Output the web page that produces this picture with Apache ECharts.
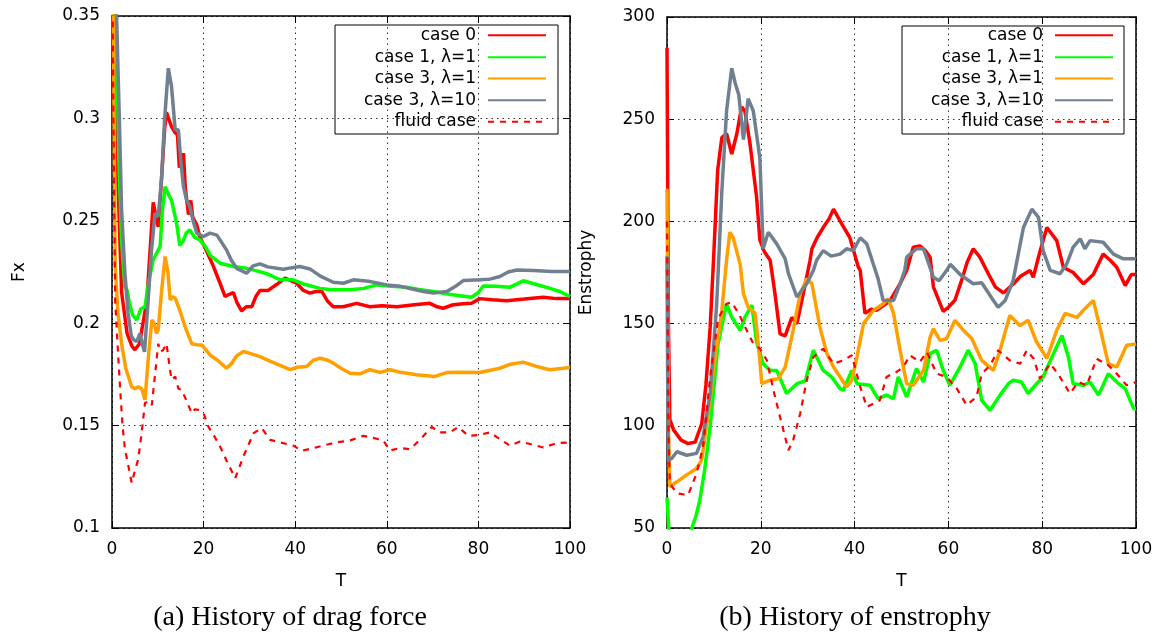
<!DOCTYPE html>
<html>
<head>
<meta charset="utf-8">
<script src="https://cdn.jsdelivr.net/npm/echarts@6/dist/echarts.min.js"></script>
<style>html,body{margin:0;padding:0;background:#fff}#c{width:1163px;height:637px}</style>
</head>
<body>
<div id="c"></div>
<script>
// ---------- data ----------
const seriesNames = ['case 0', 'case 1, λ=1', 'case 3, λ=1', 'case 3, λ=10', 'fluid case'];
const xTicks = [0, 20, 40, 60, 80, 100];
const dragTicks = [0.1, 0.15, 0.2, 0.25, 0.3, 0.35];
const enstTicks = [50, 100, 150, 200, 250, 300];

// (a) drag force Fx vs T
const dragCase0 = [[0,0.6],[0.6,0.35],[1.3,0.27],[2.1,0.215],[3.3,0.195],[4.3,0.189],[5.0,0.187],[6,0.19],[7.6,0.211],[8.3,0.235],[9.0,0.259],[9.6,0.252],[10.1,0.247],[10.8,0.27],[11.5,0.295],[11.9,0.303],[12.5,0.299],[13.0,0.296],[13.8,0.293],[14.3,0.292],[14.7,0.276],[15.3,0.279],[15.6,0.283],[16.0,0.266],[16.7,0.253],[17.2,0.26],[17.6,0.252],[18.5,0.248],[19.2,0.242],[20.5,0.236],[22.1,0.228],[23.5,0.22],[24.7,0.213],[25.5,0.214],[26.5,0.215],[27.3,0.21],[28.3,0.206],[29.3,0.208],[30.5,0.208],[31.4,0.213],[32.3,0.216],[34.1,0.216],[36,0.219],[37.8,0.222],[40.3,0.2195],[41.8,0.216],[43.2,0.2147],[44.5,0.2155],[45.8,0.2155],[47,0.211],[48.3,0.208],[50.5,0.208],[53.4,0.2097],[56.3,0.208],[59,0.2085],[62.2,0.208],[66,0.209],[69.4,0.2097],[71,0.208],[72.3,0.2073],[74.5,0.209],[76.7,0.2095],[78.5,0.2097],[80.3,0.212],[83,0.2115],[86.2,0.211],[90,0.2118],[94.2,0.2127],[97,0.212],[100,0.212]];
const dragCase1 = [[0,0.6],[0.9,0.35],[1.5,0.28],[2.1,0.24],[2.8,0.218],[3.3,0.216],[3.8,0.21],[4.5,0.204],[5.4,0.2016],[6.3,0.207],[7.2,0.208],[8.0,0.22],[9.0,0.231],[10.5,0.2374],[11.0,0.255],[11.6,0.2667],[12.3,0.263],[13.0,0.26],[13.6,0.254],[14.1,0.2488],[14.8,0.238],[15.5,0.24],[16.2,0.244],[17.0,0.2456],[18,0.242],[19.2,0.2407],[20.5,0.237],[21.5,0.233],[23.6,0.2293],[26.5,0.2277],[29,0.227],[32,0.2253],[34,0.224],[36.7,0.2212],[39.6,0.2212],[42,0.219],[45.4,0.217],[48,0.2163],[52,0.2163],[55,0.217],[57.8,0.2187],[61,0.218],[64.3,0.2176],[67,0.2165],[70.2,0.2155],[74,0.214],[78.5,0.2127],[80,0.215],[81.1,0.2182],[84,0.218],[86.9,0.2176],[89.8,0.2207],[92.5,0.219],[95.6,0.217],[97.8,0.2155],[100,0.213]];
const dragCase3l1 = [[0,0.5],[0.3,0.35],[0.7,0.2277],[1.3,0.205],[2.1,0.19],[3,0.178],[4.3,0.169],[5.0,0.168],[5.7,0.169],[6.5,0.168],[7.2,0.1626],[8.0,0.185],[8.7,0.2016],[9.2,0.2],[9.7,0.195],[10.1,0.1968],[10.8,0.215],[11.6,0.2326],[12.2,0.225],[12.7,0.2114],[13.3,0.213],[13.8,0.2122],[15,0.205],[16,0.198],[17.4,0.19],[18.5,0.1895],[19.6,0.1894],[20.5,0.187],[21.4,0.1845],[23,0.182],[25,0.178],[26,0.18],[27.2,0.184],[28.7,0.1862],[30.5,0.185],[32.3,0.1837],[35,0.181],[38.9,0.1773],[40.5,0.1785],[42.5,0.1789],[44,0.182],[45.4,0.1829],[47,0.182],[48.3,0.1805],[50,0.178],[52,0.1756],[54.1,0.1753],[56.3,0.1773],[58.5,0.176],[60.7,0.1773],[63,0.176],[66.5,0.1748],[70.5,0.174],[73.1,0.1759],[76,0.176],[80.3,0.1759],[84.7,0.178],[87,0.18],[89.8,0.181],[92.5,0.179],[95.6,0.1773],[100,0.1784]];
const dragCase3l10 = [[0,0.6],[1.0,0.35],[1.6,0.3],[2.1,0.255],[2.8,0.225],[3.5,0.205],[4.2,0.194],[4.7,0.192],[5.4,0.191],[6.1,0.195],[6.6,0.19],[7.1,0.186],[7.9,0.2114],[8.6,0.235],[9.4,0.2537],[10.1,0.252],[10.8,0.27],[11.5,0.3],[12.3,0.3245],[13.0,0.3155],[13.8,0.2944],[14.5,0.2944],[15.0,0.28],[15.6,0.2667],[16.3,0.26],[17,0.2569],[17.7,0.25],[18.5,0.244],[19.9,0.2423],[21.4,0.244],[22.9,0.243],[25,0.2358],[26,0.231],[27.2,0.2268],[29.4,0.2244],[30.8,0.228],[32.3,0.229],[34,0.2275],[37.4,0.2263],[39,0.227],[41,0.2277],[43.2,0.2265],[45.5,0.223],[48.3,0.22],[50.5,0.2195],[52.7,0.2212],[56,0.2205],[60,0.2187],[63,0.218],[65.8,0.2166],[68,0.2155],[70.2,0.2147],[73.1,0.2155],[75,0.218],[76.7,0.2208],[80.3,0.2212],[82.5,0.2215],[84.7,0.2228],[86.5,0.225],[88.4,0.226],[92,0.2257],[96,0.2252],[100,0.2252]];
const dragFluid = [[0,0.4],[0.3,0.3],[0.7,0.211],[1.2,0.19],[1.7,0.1707],[2.3,0.15],[2.8,0.139],[3.6,0.13],[4.3,0.122],[5.0,0.128],[5.7,0.1333],[6.4,0.145],[7.2,0.161],[8.0,0.162],[8.7,0.16],[9.4,0.175],[10.1,0.19],[10.6,0.186],[11.2,0.187],[11.9,0.19],[12.5,0.18],[13,0.1724],[13.8,0.174],[14.5,0.168],[15.2,0.1675],[16.3,0.162],[17.4,0.156],[18.1,0.158],[18.8,0.1577],[20,0.156],[21,0.1496],[22.3,0.145],[23.6,0.1398],[25,0.133],[26.9,0.1243],[28.7,0.135],[30.9,0.1463],[32.7,0.1488],[34.5,0.143],[36.7,0.1418],[39.6,0.1402],[41.4,0.1377],[44,0.139],[46.5,0.1405],[49.1,0.1418],[52,0.1428],[54.9,0.145],[57,0.144],[59.2,0.1428],[60.7,0.1379],[62.9,0.139],[65.1,0.1385],[67.2,0.143],[69.8,0.1493],[71.6,0.1467],[73.8,0.1467],[75.6,0.1493],[77.8,0.145],[80.3,0.1455],[82.5,0.1467],[84.7,0.1434],[86.9,0.1402],[89.1,0.1422],[92,0.1406],[94.2,0.1393],[97.1,0.1414],[100,0.1418]];

// (b) enstrophy vs T
const enstCase0 = [[0,285],[0.3,150],[0.6,103],[1.4,98],[3,93],[4.5,91.3],[6,92],[7.4,101],[8.3,120],[9.2,148],[10,185],[10.8,225],[11.7,241],[12.7,243],[13.8,233],[14.9,243],[15.9,256],[16.6,254],[17.7,238],[19.1,212],[19.8,191],[20.8,185],[22,181],[23,165],[24.1,145],[25.2,144],[26.6,153],[27.7,150],[29.1,165],[30.5,181],[30.9,186.6],[32,192],[33.3,197],[34.5,201],[35.5,206],[37.2,199],[39,192],[40.8,177.6],[41.2,176],[42.2,155],[43.5,157],[44.7,156.5],[47.5,161],[49.7,169.5],[51.1,176],[52.5,187.4],[53.9,188],[55,186],[56.1,182.5],[56.8,168],[58.9,156],[60,158],[61.4,161.5],[62.8,171],[64,180],[65.3,186.6],[66.7,182.5],[68.9,172.7],[70,168],[71.7,165],[73.9,169.5],[75.3,173],[77.4,176],[78.1,172.7],[79.5,185],[81,197],[83.1,190.6],[84.5,177.6],[86.6,175],[88.8,169.5],[90.9,174],[93,184],[94.5,181],[95.9,177.6],[97.7,168.6],[99,174],[100,174]];
const enstCase1 = [[0,65],[0.5,45],[1.5,38],[3,38],[4.3,42],[5.3,50],[6.2,56],[7,63.7],[8,78],[9.2,99.5],[10.9,140.2],[12.7,159.7],[13.8,153.2],[15.6,146.7],[16.6,153],[18.1,159],[19.1,141],[20.5,130.4],[22,127.1],[23.4,127.1],[25.5,115.8],[27.7,120.6],[29.5,122],[31.2,137],[33.3,127.1],[35.1,123.9],[36.9,118.2],[37.6,117.4],[39.4,127.1],[40.5,120.6],[43.3,119.8],[45,113.3],[46.8,115],[48.3,113.3],[49.3,123.9],[51.1,114.1],[53.2,128],[54.7,121.4],[56.1,135.3],[57.5,137],[58.9,127.1],[60.3,119.8],[62.5,128.8],[64.2,137],[65.7,130.4],[67.1,112.5],[68.9,107.6],[71,115],[72.8,120.6],[73.8,122.3],[75.6,121.4],[77,115.8],[78.5,119.8],[80.2,123.9],[82.4,135.3],[84.2,144.2],[85.6,133.6],[86.6,120.6],[88.8,119.8],[90.2,121.4],[92,115],[94.1,125.5],[95.9,121.4],[97.7,118.2],[99.5,108.4],[100,108.4]];
const enstCase3l1 = [[0,216],[0.3,100],[0.6,70.2],[2.1,72.6],[4.2,76],[6.3,79.1],[7.4,83.2],[8.8,106],[10.2,132],[11.7,156.4],[12.7,181],[13.4,194.7],[14.1,192],[15.6,179],[16.3,164.6],[17.3,158],[18.8,155],[19.8,132],[20.2,120.6],[22,122.3],[23.7,123],[25.2,128.7],[26.9,146.7],[28.4,164.6],[29.8,172],[30.9,169.5],[32.6,148.3],[34.1,135.3],[35.5,128.8],[36.9,123.9],[38.3,119],[39.4,122.3],[40.5,133.6],[41.9,150],[44,156.4],[46.1,159.7],[47.2,162.1],[48.3,155],[49.7,137],[51.1,120.6],[52.5,119.8],[54.7,127],[56.1,143.4],[56.8,147.5],[58.2,141.8],[59.6,142.6],[61.4,151.6],[63.2,146.7],[65,142.6],[67.1,132],[69.6,127.1],[71,136.9],[73.1,154],[75.3,149],[77,151.6],[78.8,141],[81,133],[83.1,146.7],[84.9,155],[87.4,153],[89.1,157.3],[90.9,161.3],[92.3,148.3],[94.1,130.4],[95.9,128.8],[98,139.4],[100,140]];
const enstCase3l10 = [[0,183],[0.15,120],[0.3,83.2],[1,84],[2.1,87.3],[4.2,85.6],[6.3,86.5],[7.7,94.6],[9.2,115.8],[10.6,159.7],[11.7,215],[12.7,254],[13.8,275],[14.5,268],[15.3,262],[16.3,240],[17.3,260],[18.4,254],[19.8,231],[20.5,186.6],[21.6,194.7],[23.4,189],[25.2,181.7],[25.9,174.4],[27.7,163],[29.8,169.5],[31.2,176],[31.9,181],[33.3,185.7],[35,183],[36.9,184],[38.3,186.6],[39.7,185.7],[41.2,192],[42.6,189],[44,179],[45,172],[46.1,161.3],[48.3,161.3],[49.7,169.5],[50.7,176],[51.1,182.5],[53.2,186.6],[54.7,186.6],[56.8,172.7],[58,171],[59.6,176],[60.4,179],[62.5,174],[65.3,169.5],[67.1,170],[69.6,161.3],[70.6,158],[72.1,161.3],[73.8,171],[76,197],[77.8,206],[79.2,202],[80.2,185.7],[81.7,176],[83.8,174.4],[85.2,179],[86.6,187.4],[88.1,191.5],[89.1,186.6],[90.2,190.6],[93,189.8],[95.2,184],[97.3,181.7],[100,181.7]];
const enstFluid = [[0,200],[0.3,100],[0.6,71.8],[2.1,67],[4.5,66.1],[6.3,76.7],[7.7,89.7],[9.2,124],[10.9,152.4],[12.7,159.7],[13.8,160.5],[15.3,154.8],[17,146.7],[18.4,140.2],[19.8,137.7],[21.3,132],[22.7,117.4],[24.1,104.3],[25.9,88],[26.9,93],[28.4,106],[29.8,122.3],[31.2,133.6],[33.3,137.7],[35.5,130.4],[37.6,132],[39.4,134.5],[41.2,119],[42.6,109.2],[45.4,112.5],[46.8,123.9],[48.9,126.3],[50.4,128.8],[51.8,134.5],[53.9,131.2],[55.4,136.1],[57.5,125.5],[59.6,123.9],[61.8,118.2],[63.9,110.1],[66,114.1],[67.1,125.5],[68.9,129.6],[70.6,136.9],[73.1,132],[75.3,130.4],[76.7,136.9],[78.2,132.8],[79.5,123.1],[81.7,130.4],[83.5,125],[85.9,115.8],[87.7,121.4],[89.5,119.8],[91.6,132.8],[94.1,129.6],[95.9,125.5],[98,119.8],[100,121.4]];

// ---------- styling ----------
const colors = ['#ff0000', '#00ff00', '#ffa000', '#708090', '#ff0000'];
const FONT = 'DejaVu Sans';
const dragData = [dragCase0, dragCase1, dragCase3l1, dragCase3l10, dragFluid];
const enstData = [enstCase0, enstCase1, enstCase3l1, enstCase3l10, enstFluid];

function xAxisPair(grid) {
  return [{
    gridIndex: grid, type: 'value', position: 'bottom',
    min: xTicks[0], max: xTicks[xTicks.length - 1], interval: xTicks[1] - xTicks[0],
    name: 'T', nameLocation: 'middle', nameGap: 45,
    nameTextStyle: { fontFamily: FONT, fontSize: 17, color: '#000' },
    axisLine: { show: true, onZero: false, lineStyle: { color: '#000', width: 1.5 } },
    axisTick: { show: true, inside: true, length: 7, lineStyle: { color: '#000' } },
    axisLabel: { fontFamily: FONT, fontSize: 17, color: '#000', margin: 13 },
    splitLine: { show: true, lineStyle: { color: '#333', width: 1, type: [1.5, 4] } }
  }, {
    gridIndex: grid, type: 'value', position: 'top',
    min: xTicks[0], max: xTicks[xTicks.length - 1], interval: xTicks[1] - xTicks[0],
    axisLine: { show: true, onZero: false, lineStyle: { color: '#000', width: 1.5 } },
    axisTick: { show: true, inside: true, length: 7, lineStyle: { color: '#000' } },
    axisLabel: { show: false }, splitLine: { show: false }
  }];
}
function yAxisPair(grid, ticks, name, gap, fmt) {
  const common = {
    gridIndex: grid, type: 'value',
    min: ticks[0], max: ticks[ticks.length - 1], interval: ticks[1] - ticks[0]
  };
  return [Object.assign({}, common, {
    position: 'left', name: name, nameLocation: 'middle', nameGap: gap,
    nameTextStyle: { fontFamily: FONT, fontSize: 17, color: '#000' },
    axisLine: { show: true, onZero: false, lineStyle: { color: '#000', width: 1.5 } },
    axisTick: { show: true, inside: true, length: 7, lineStyle: { color: '#000' } },
    axisLabel: { fontFamily: FONT, fontSize: 17, color: '#000', margin: 12, formatter: fmt },
    splitLine: { show: true, lineStyle: { color: '#333', width: 1, type: [1.5, 4] } }
  }), Object.assign({}, common, {
    position: 'right',
    axisLine: { show: true, onZero: false, lineStyle: { color: '#000', width: 1.5 } },
    axisTick: { show: true, inside: true, length: 7, lineStyle: { color: '#000' } },
    axisLabel: { show: false }, splitLine: { show: false }
  })];
}
function makeSeries(dataList, axisIdx) {
  return dataList.map((d, i) => ({
    name: seriesNames[i], type: 'line', data: d,
    xAxisIndex: axisIdx, yAxisIndex: axisIdx,
    symbol: 'none', smooth: false, clip: true, animation: false,
    lineStyle: i === 4 ? { color: colors[i], width: 2.2, type: [6, 6] } : { color: colors[i], width: 3.5 },
    itemStyle: { color: colors[i] }
  }));
}
const rowCenters = [36.7, 58.7, 80, 101.7, 123.3];
function makeLegends(rightPx) {
  return seriesNames.map((n, i) => ({
    data: [n], orient: 'vertical', align: 'right',
    right: rightPx, top: rowCenters[i] - 10, padding: 0,
    itemWidth: 58, itemHeight: 20, selectedMode: false,
    itemStyle: { opacity: 0 },
    textStyle: { fontFamily: FONT, fontSize: 17, color: '#000', padding: [0, 7, 0, 0] }
  }));
}

const chart = echarts.init(document.getElementById('c'), null, { renderer: 'canvas' });
chart.setOption({
  animation: false,
  backgroundColor: '#fff',
  grid: [
    { left: 112, top: 16, width: 458, height: 512, show: false },
    { left: 667, top: 17, width: 469, height: 511, show: false }
  ],
  xAxis: [...xAxisPair(0), ...xAxisPair(1)],
  yAxis: [...yAxisPair(0, dragTicks, 'Fx', 84, v => String(+v.toFixed(2))), ...yAxisPair(1, enstTicks, 'Enstrophy', 72, v => String(v))],
  legend: [...makeLegends(1163 - 547), ...makeLegends(1163 - 1114)],
  series: [...makeSeries(dragData, 0), ...makeSeries(enstData, 2)],
  graphic: [
    { type: 'rect', shape: { x: 335, y: 25, width: 223, height: 109 }, style: { fill: '#fff', stroke: '#000', lineWidth: 1 }, z: 0 },
    { type: 'rect', shape: { x: 902, y: 26, width: 222, height: 108 }, style: { fill: '#fff', stroke: '#000', lineWidth: 1 }, z: 0 },
    { type: 'text', x: 290, y: 604, style: { text: '(a) History of drag force', font: '28px "Liberation Serif"', fill: '#000', textAlign: 'center' } },
    { type: 'text', x: 855, y: 604, style: { text: '(b) History of enstrophy', font: '28px "Liberation Serif"', fill: '#000', textAlign: 'center' } }
  ]
});
</script>
</body>
</html>
